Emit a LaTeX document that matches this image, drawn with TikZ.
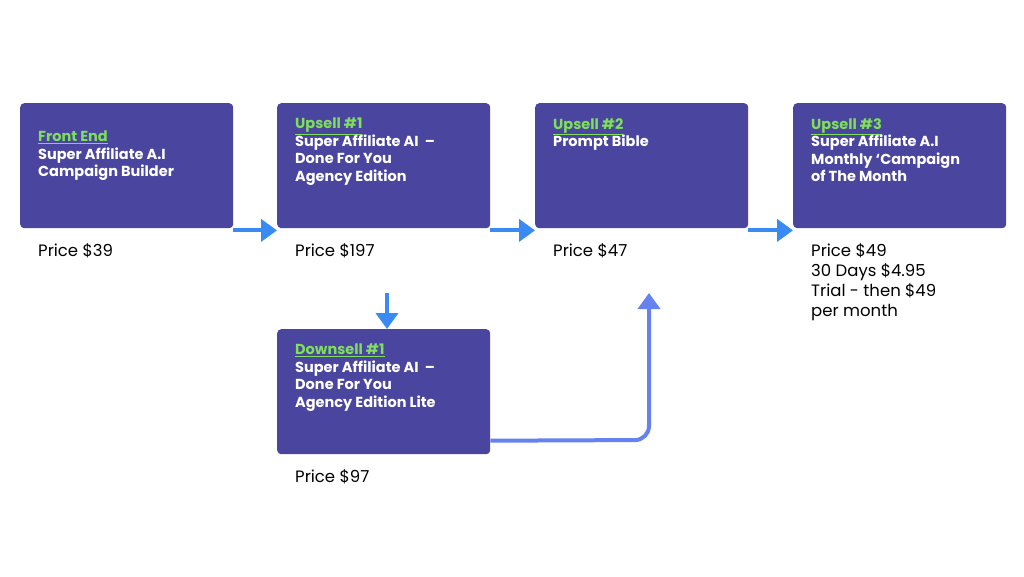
\documentclass[tikz,border=0pt]{standalone}
\usepackage{fontspec}
\setmainfont{Poppins}
\usetikzlibrary{positioning, arrows.meta, calc}
\definecolor{funnelpurple}{HTML}{4A459F}
\definecolor{funnelgreen}{HTML}{7EE05A}
\definecolor{funnelblue}{HTML}{3A8AF3}
\definecolor{funnelviolet}{HTML}{6682F0}
\tikzset{
    offerbox/.style = {fill=funnelpurple, rounded corners=4pt, minimum width=213pt, minimum height=125pt, inner sep=0pt, anchor=north west},
    offertext/.style = {anchor=north west, align=left, text=white, font=\fontsize{14.5}{17.5}\selectfont\bfseries, inner sep=0pt},
    pricetext/.style = {anchor=north west, align=left, font=\fontsize{16.5}{20}\selectfont, inner sep=0pt},
    flowarrow/.style = {draw=funnelblue, line width=4pt, -{Triangle[length=16pt, width=22pt]}},
}
\newcommand{\offerlabel}[1]{\textcolor{funnelgreen}{\underline{#1}}}
\begin{document}
\begin{tikzpicture}[x=1pt, y=-1pt]
    \useasboundingbox[fill=white] (0,0) rectangle (1024,576);
    % boxes
    \node[offerbox] (FE) at (20,103) {};
    \node[offerbox] (U1) at (277,103) {};
    \node[offerbox] (U2) at (535,103) {};
    \node[offerbox] (U3) at (793,103) {};
    \node[offerbox] (D1) at (277,329) {};
    % offer texts
    \node[offertext] (FEt) at (38,131) {\offerlabel{Front End}\\Super Affiliate A.I\\Campaign Builder};
    \node[offertext] (U1t) at (295,118) {\offerlabel{Upsell \#1}\\Super Affiliate AI\ \ --\\Done For You\\Agency Edition};
    \node[offertext] (U2t) at (553,118) {\offerlabel{Upsell \#2}\\Prompt Bible};
    \node[offertext] (U3t) at (811,118) {\offerlabel{Upsell \#3}\\Super Affiliate A.I\\Monthly `Campaign\\of The Month};
    \node[offertext] (D1t) at (295,344) {\offerlabel{Downsell \#1}\\Super Affiliate AI\ \ --\\Done For You\\Agency Edition Lite};
    % prices
    \node[pricetext] (FEp) at (38,243) {Price \$39};
    \node[pricetext] (U1p) at (295,243) {Price \$197};
    \node[pricetext] (U2p) at (553,243) {Price \$47};
    \node[pricetext] (U3p) at (811,243) {Price \$49\\30 Days \$4.95\\Trial - then \$49\\per month};
    \node[pricetext] (D1p) at (295,469) {Price \$97};
    % arrows
    \draw[flowarrow] (FE.south east) ++(0,2) -- ($(U1.south west)+(0,2)$);
    \draw[flowarrow] (U1.south east) ++(0,2) -- ($(U2.south west)+(0,2)$);
    \draw[flowarrow] (U2.south east) ++(0,2) -- ($(U3.south west)+(0,2)$);
    \draw[flowarrow] (387,293) -- (D1.north -| 387,0);
    \draw[flowarrow, draw=funnelviolet, rounded corners=14pt] ($(D1.east)+(0,49)$) -- (649,440) -- (649,293);
\end{tikzpicture}
\end{document}
